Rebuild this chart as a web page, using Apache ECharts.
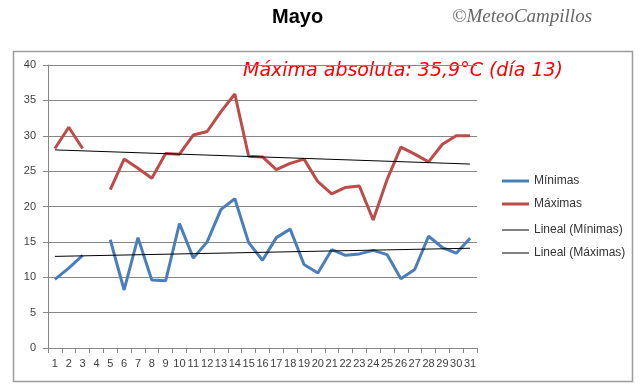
<!DOCTYPE html>
<html>
<head>
<meta charset="utf-8">
<script src="https://cdn.jsdelivr.net/npm/echarts@6/dist/echarts.min.js"></script>
<style>html,body{margin:0;padding:0;background:#fff}#c{width:640px;height:389px}</style>
</head>
<body>
<div id="c"></div>
<script>
var days = ['1','2','3','4','5','6','7','8','9','10','11','12','13','14','15','16','17','18','19','20','21','22','23','24','25','26','27','28','29','30','31'];
var minimas = [9.7,11.3,13.1,null,15.3,8.2,15.6,9.6,9.5,17.6,12.7,15.0,19.6,21.1,14.9,12.4,15.6,16.8,11.8,10.6,13.9,13.1,13.3,13.8,13.2,9.8,11.1,15.8,14.2,13.4,15.5];
var maximas = [28.2,31.2,28.2,null,22.4,26.7,25.4,24.0,27.5,27.4,30.1,30.6,33.4,35.9,27.1,27.0,25.2,26.1,26.7,23.5,21.8,22.7,22.9,18.1,23.8,28.4,27.4,26.3,28.8,30.0,30.0];
var trendMinEnds = [12.95, 14.1];
var trendMaxEnds = [28.0, 26.0];
var yTicks = {min: 0, max: 40, step: 5};

var chart = echarts.init(document.getElementById('c'), null, {renderer: 'canvas'});
var first = days[0], last = days[days.length - 1];
var legendText = {fontSize: 12, color: '#333', fontFamily: '"Liberation Sans", Arial, sans-serif'};
chart.setOption({
  animation: false,
  backgroundColor: '#ffffff',
  grid: {left: 48, right: 163, top: 65, bottom: 41, containLabel: false},
  graphic: [
    {type: 'rect', z: -10, shape: {x: 13.5, y: 51.5, width: 619, height: 330},
     style: {fill: 'none', stroke: '#9c9c9c', lineWidth: 1.5}},
    {type: 'text', left: 272, top: 7,
     style: {text: 'Mayo', font: 'bold 20px "Liberation Sans", Arial, sans-serif', fill: '#000'}},
    {type: 'text', left: 452, top: 7,
     style: {text: '©MeteoCampillos', font: 'italic 19px "Liberation Serif", "DejaVu Serif", serif', fill: '#666'}},
    {type: 'text', left: 243, top: 62,
     style: {text: 'Máxima absoluta: 35,9°C (día 13)', font: 'italic 19px "DejaVu Sans", sans-serif', fill: '#ff0000'}}
  ],
  legend: [
    {orient: 'vertical', left: 497, top: 170, icon: 'rect',
     itemWidth: 27, itemHeight: 3, itemGap: 11, textStyle: legendText,
     data: ['Mínimas', 'Máximas']},
    {orient: 'vertical', left: 497, top: 219, icon: 'rect',
     itemWidth: 27, itemHeight: 1, itemGap: 11, textStyle: legendText,
     data: ['Lineal (Mínimas)', 'Lineal (Máximas)']}
  ],
  xAxis: {
    type: 'category', data: days, boundaryGap: true,
    axisLine: {lineStyle: {color: '#868686', width: 1}},
    axisTick: {show: true, length: 5, alignWithLabel: false, interval: 0, lineStyle: {color: '#868686'}},
    axisLabel: {interval: 0, margin: 10, fontSize: 11, color: '#404040', fontFamily: '"Liberation Sans", Arial, sans-serif'},
    splitLine: {show: false}
  },
  yAxis: {
    type: 'value', min: yTicks.min, max: yTicks.max, interval: yTicks.step,
    axisLine: {show: true, lineStyle: {color: '#868686', width: 1}},
    axisTick: {show: true, length: 5, lineStyle: {color: '#868686'}},
    axisLabel: {margin: 12, fontSize: 11, color: '#404040', fontFamily: '"Liberation Sans", Arial, sans-serif'},
    splitLine: {show: true, lineStyle: {color: '#868686', width: 1}}
  },
  series: [
    {name: 'Mínimas', type: 'line', data: minimas, symbol: 'none', connectNulls: false,
     lineStyle: {color: '#4A7EBB', width: 3}, itemStyle: {color: '#4A7EBB'}, z: 3},
    {name: 'Máximas', type: 'line', data: maximas, symbol: 'none', connectNulls: false,
     lineStyle: {color: '#BE4B48', width: 3}, itemStyle: {color: '#BE4B48'}, z: 3},
    {name: 'Lineal (Mínimas)', type: 'line', data: [[first, trendMinEnds[0]], [last, trendMinEnds[1]]], symbol: 'none',
     lineStyle: {color: '#000', width: 1}, itemStyle: {color: '#000'}, z: 4},
    {name: 'Lineal (Máximas)', type: 'line', data: [[first, trendMaxEnds[0]], [last, trendMaxEnds[1]]], symbol: 'none',
     lineStyle: {color: '#000', width: 1}, itemStyle: {color: '#000'}, z: 4}
  ]
});
</script>
</body>
</html>
